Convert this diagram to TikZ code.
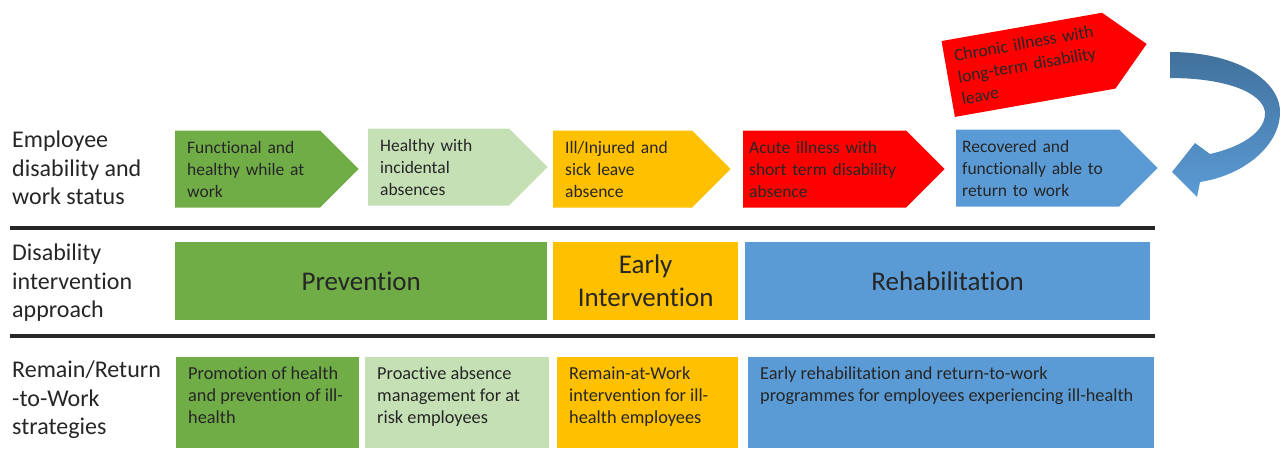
\documentclass[tikz,border=0pt]{standalone}
\usepackage{fontspec}
\setmainfont{Carlito}[Ligatures=CommonOff]
\usetikzlibrary{positioning,shapes.symbols}
\definecolor{darkgreen}{HTML}{70AD47}
\definecolor{lightgreen}{HTML}{C5E0B4}
\definecolor{amber}{HTML}{FFC000}
\definecolor{brightred}{HTML}{FF0000}
\definecolor{steelblue}{HTML}{5B9BD5}
\definecolor{deepblue}{HTML}{41719C}
\definecolor{ink}{HTML}{262626}
\tikzset{
rowlabel/.style={
  anchor=north west,
  align=left,
  inner sep=0pt,
  text=ink,
  font=\fontsize{24}{28.5}\selectfont
  },
status/.style={
  signal,
  signal to=east,
  signal pointer angle=90,
  minimum height=77pt,
  inner xsep=12pt,
  inner ysep=0pt,
  align=left,
  anchor=west,
  text=ink,
  font=\fontsize{17.5}{22}\selectfont
  },
approach/.style={
  rectangle,
  anchor=north west,
  minimum height=78pt,
  align=center,
  text=ink,
  font=\fontsize{27}{33}\selectfont
  },
strategy/.style={
  rectangle,
  anchor=north west,
  minimum height=91pt
  },
strattext/.style={
  anchor=north west,
  align=left,
  inner sep=0pt,
  text=ink,
  font=\fontsize{18.3}{22}\selectfont
  },
}

\begin{document}
\begin{tikzpicture}[x=1pt,y=-1pt]
    \useasboundingbox (0,0) rectangle (1284,448);

    % labels on the left
    \node[rowlabel] (statuslabel) at (12,131) {Employee\\disability and\\work status};
    \node[rowlabel] (approachlabel) at (12,244) {Disability\\intervention\\approach};
    \node[rowlabel] (strategylabel) at (12,361) {Remain/Return\\-to-Work\\strategies};

    % first row: disability and work status
    \foreach \n/\x/\y/\w/\s/\c/\t in {
        functional/175/169/121/12/darkgreen/{Functional and\\healthy while at\\work},
        healthy/368/167/117/12/lightgreen/{Healthy with\\incidental\\absences},
        sick/553/169/115/12/amber/{Ill/Injured and\\sick leave\\absence},
        acute/743/169/151/6/brightred/{Acute illness with\\short term disability\\absence},
        recovered/956/168/151/6/steelblue/{Recovered and\\functionally able to\\return to work}
    }
    {
        \node[status, fill=\c, text width=\w pt, inner xsep=\s pt] (\n) at (\x,\y) {\t};
    }
    \node[status, fill=brightred, text width=143pt, inner xsep=10pt, rotate=10] (chronic) at (948,79)
        {Chronic illness with\\long-term disability\\leave};

    % curved arrow back to recovered
    \path[top color=deepblue, bottom color=steelblue]
        (1170,52) .. controls (1236,52) and (1280,80) .. (1280,112)
        .. controls (1280,145) and (1245,175) .. (1200,182)
        -- (1197,197) -- (1172,172) -- (1195,143) -- (1210,154)
        .. controls (1245,146) and (1266,130) .. (1265,112)
        .. controls (1262,92) and (1225,78) .. (1170,78) -- cycle;

    % separators
    \draw[line width=4pt, ink] (10,228) -- (1155,228);
    \draw[line width=4pt, ink] (10,336) -- (1155,336);

    % second row: intervention approach
    \node[approach, fill=darkgreen, minimum width=372pt] (prevention) at (175,242) {Prevention};
    \node[approach, fill=amber, minimum width=185pt] (early) at (553,242) {Early\\Intervention};
    \node[approach, fill=steelblue, minimum width=405pt] (rehab) at (745,242) {Rehabilitation};

    % third row: strategies
    \node[strategy, fill=darkgreen, minimum width=183pt] (promotion) at (176,357) {};
    \node[strategy, fill=lightgreen, minimum width=184pt] (proactive) at (365,357) {};
    \node[strategy, fill=amber, minimum width=181pt] (remain) at (557,357) {};
    \node[strategy, fill=steelblue, minimum width=406pt] (return) at (748,357) {};

    \node[strattext, below right=10pt and 12pt of promotion.north west] (promotiontext)
        {Promotion of health\\and prevention of ill-\\health};
    \node[strattext, below right=10pt and 12pt of proactive.north west] (proactivetext)
        {Proactive absence\\management for at\\risk employees};
    \node[strattext, below right=10pt and 12pt of remain.north west] (remaintext)
        {Remain-at-Work\\intervention for ill-\\health employees};
    \node[strattext, below right=10pt and 12pt of return.north west] (returntext)
        {Early rehabilitation and return-to-work\\programmes for employees experiencing ill-health};
\end{tikzpicture}
\end{document}
